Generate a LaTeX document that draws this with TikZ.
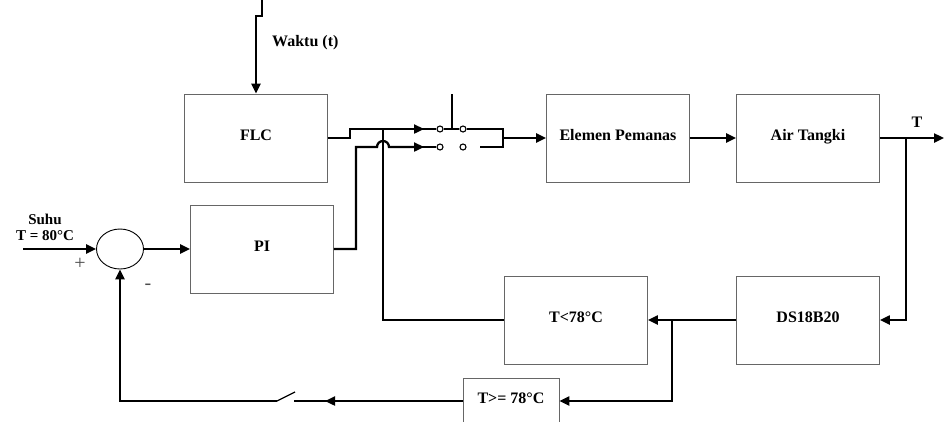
\documentclass[tikz,border=0pt]{standalone}
\usepackage{fontspec}
\setmainfont{Liberation Serif}
\usetikzlibrary{arrows.meta,shapes.geometric}

\begin{document}
\begin{tikzpicture}[
x=1pt, y=-1pt,
blok/.style={draw=black!60, line width=0.9pt, minimum width=143pt, minimum height=88pt,
  text height=1.5ex, text depth=.25ex, font=\bfseries\fontsize{16}{18}\selectfont},
sinyal/.style={line width=2.3pt, -{Triangle[length=10pt,width=9pt]}},
kabel/.style={line width=2.3pt},
tipis/.style={line width=1.3pt},
kontak/.style={circle, draw, line width=1.1pt, inner sep=0pt, minimum size=6pt, fill=white},
teks/.style={font=\bfseries\fontsize{15}{16}\selectfont, inner sep=0pt}
]
\useasboundingbox (0,0) rectangle (944,421);

% blok utama
\node[blok] (flc) at (256,138) {FLC};
\node[blok] (pi) at (262,249) {PI};
\node[blok] (elemen) at (618,138) {Elemen Pemanas};
\node[blok] (air) at (808,138) {Air Tangki};
\node[blok] (ds) at (808,320) {DS18B20};
\node[blok] (tkecil) at (576,320) {T<78°C};
\node[blok, minimum width=96pt, minimum height=46pt] (tbesar) at (511,401) {T>= 78°C};
\node[ellipse, draw, line width=0.9pt, minimum width=47pt, minimum height=40pt] (sum) at (120,249) {};

% kontak saklar
\node[kontak] (ka1) at (440,129) {};
\node[kontak] (kb1) at (463,129) {};
\node[kontak] (ka2) at (440,147) {};
\node[kontak] (kb2) at (463,147) {};

% titik bebas
\coordinate (atas) at (262,0);
\coordinate (masuk) at (23,249);
\coordinate (keluar) at (944,138);
\coordinate (gabung) at (503,138);
\coordinate (ujung) at (480,147);
\coordinate (tuas) at (452,94);
\coordinate (sakl) at (277,401);
\coordinate (sakr) at (294,401);

% label
\node[teks, align=center] at (45,227) {Suhu\\T = 80°C};
\node[teks, font=\bfseries\fontsize{16}{18}\selectfont, anchor=west] at (272,43) {Waktu (t)};
\node[teks, font=\bfseries\fontsize{16}{18}\selectfont] at (917,122) {T};
\node[text=black!70, font=\fontsize{20}{22}\selectfont] at (80,264) {+};
\node[text=black!70, font=\fontsize{20}{22}\selectfont] at (148,287) {-};

% masukan
\draw[sinyal] (masuk) -- (sum.west);
\draw[sinyal] (sum.east) -- (pi.west);
\draw[sinyal] (atas) |- (256,16) -- (flc.north);

% ke saklar
\draw[sinyal] (flc.east) -| (350,129) -- (424,129);
\draw[sinyal] (pi.east) -| (356,147) -- (377,147)
  arc[start angle=180, end angle=0, radius=6pt] -- (424,147);
\draw[kabel] (tkecil.west) -| (383,129);
\draw[tipis] (420,129) -- (ka1);
\draw[tipis] (420,147) -- (ka2);
\draw[tipis] (ka1) -- (kb1);
\draw[tipis] (tuas) -- (452,129);
\draw[tipis] (kb1) -- (503,129);
\draw[tipis] (ujung) -- (503,147);
\draw[kabel] (503,128) -- (503,148);
\draw[sinyal] (gabung) -- (elemen.west);

% plant
\draw[sinyal] (elemen) -- (air);
\draw[sinyal] (air.east) -- (keluar);
\draw[sinyal] (906,138) |- (ds.east);
\draw[sinyal] (ds.west) -- (tkecil.east);
\draw[sinyal] (672,320) |- (tbesar.east);

% umpan balik
\draw[sinyal] (tbesar.west) -- (325,401);
\draw[tipis] (327,401) -- (sakr);
\draw[tipis] (sakl) -- (295,392);
\draw[tipis] (sakl) -- (245,401);
\draw[sinyal] (247,401) -| (sum.south);
\end{tikzpicture}
\end{document}
